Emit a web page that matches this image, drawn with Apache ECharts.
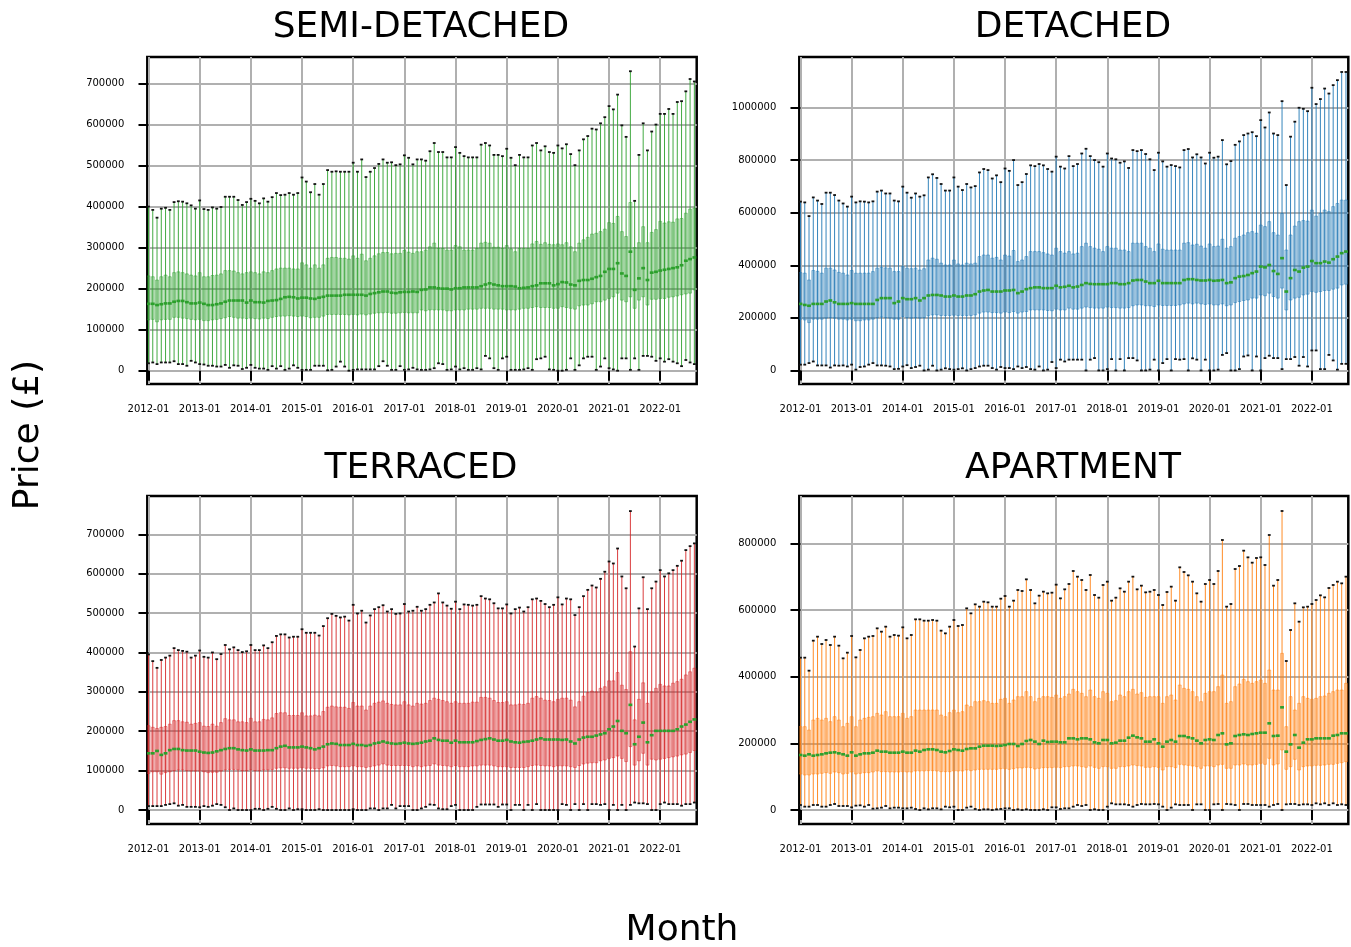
<!DOCTYPE html>
<html>
<head>
<meta charset="utf-8">
<title>Monthly price distribution by property type</title>
<script src="https://cdn.jsdelivr.net/npm/echarts@6/dist/echarts.min.js"></script>
<style>
  html, body { margin: 0; padding: 0; background: #ffffff; }
  #chart { width: 1351px; height: 947px; }
</style>
</head>
<body>
<div id="chart"></div>
<script>
// Month categories, 2012-01 .. 2022-09
const months = [];
for (let y = 2012; y <= 2022; y++) {
  for (let m = 1; m <= 12; m++) {
    if (y === 2022 && m > 9) break;
    months.push(y + '-' + String(m).padStart(2, '0'));
  }
}
const xTickIdx = [0, 12, 24, 36, 48, 60, 72, 84, 96, 108, 120];

// All prices below are in thousands of pounds
const UNIT = 1000;

// ---- Semi-detached ----
const semiMax = [400,392,373,395,397,392,411,413,412,408,
403,395,415,394,392,398,395,399,424,424,
424,416,404,411,419,414,408,420,412,423,
433,428,429,433,429,433,471,461,435,455,
429,455,489,485,486,485,485,485,507,485,
515,472,485,494,504,515,507,508,501,503,
525,519,503,515,
515,512,535,555,533,533,520,520,545,531,
523,520,520,520,551,555,549,526,526,523,
541,519,501,526,520,520,549,555,537,547,
533,531,549,542,552,528,501,537,564,572,
590,588,603,618,645,637,673,598,570,730,
414,526,603,537,583,600,626,626,638,626,
655,657,681,711,705];
const semiQ3 = [231,229,221,229,233,229,239,241,239,236,
233,231,239,229,229,232,233,236,244,244,
243,239,236,239,241,239,236,241,239,244,
248,250,250,250,248,248,263,258,250,258,
250,258,274,276,276,274,274,272,280,274,
284,268,274,280,285,288,288,285,286,286,
293,289,286,290,
290,294,302,311,298,298,294,294,305,302,
294,294,294,298,311,313,311,301,301,298,
305,297,290,298,298,298,309,315,308,312,
308,307,309,307,312,302,290,311,319,325,
333,335,339,345,361,359,376,339,327,410,
300,312,351,312,337,344,364,360,363,362,
370,371,384,394,396];
const semiMed = [163,163,160,162,164,164,168,170,170,167,
164,164,166,163,160,160,162,164,168,171,
171,171,171,166,171,167,167,166,170,171,
172,175,179,180,179,176,178,178,176,175,
178,180,183,183,183,183,185,185,185,185,
185,183,187,189,191,193,193,190,189,191,
192,192,193,192,
197,198,203,203,201,200,200,198,201,201,
203,203,203,203,206,210,213,210,208,206,
206,206,205,201,202,203,206,208,213,213,
213,208,211,216,215,210,208,219,221,221,
224,228,231,241,248,248,262,237,231,290,
197,225,250,221,239,241,244,246,248,250,
252,257,268,272,276];
const semiQ1 = [124,125,119,124,125,125,130,130,128,127,
125,124,125,122,122,124,125,127,129,132,
130,128,128,127,128,127,126,128,127,130,
132,133,133,134,133,132,133,132,129,130,
130,133,137,137,137,137,137,136,137,136,
138,136,138,140,141,141,142,140,140,141,
142,141,141,141,
148,146,148,148,148,148,146,146,148,148,
148,150,150,150,152,152,152,150,150,150,
148,148,148,150,152,152,154,156,154,154,
154,152,152,156,154,152,150,158,160,160,
163,168,168,172,176,180,189,172,168,180,
152,172,180,160,174,174,176,176,179,180,
182,185,187,189,197];
const semiMin = [18,20,16,20,20,20,23,16,16,12,
24,20,16,15,12,12,10,10,14,7,
13,12,4,7,14,7,5,5,2,11,
5,11,2,5,13,7,2,2,2,12,
12,12,1,2,10,22,10,0,2,3,
3,3,3,3,11,23,12,2,2,11,
2,3,7,3,
2,2,3,6,18,16,2,3,10,3,
6,2,2,6,3,36,30,6,2,30,
34,2,2,2,3,6,2,28,30,34,
3,2,0,0,2,30,2,13,30,34,
34,2,10,30,6,3,0,30,30,2,
30,2,36,36,34,24,30,22,28,22,
18,11,26,20,16];

// ---- Detached ----
const detMax = [642,639,587,658,646,633,676,676,667,646,
635,623,661,639,643,642,639,643,680,684,
673,673,646,643,699,676,657,673,661,666,
734,746,732,709,684,684,734,699,686,709,
696,701,753,766,762,730,742,716,768,759,
800,705,716,747,780,777,785,780,766,756,
813,775,768,
815,777,785,825,843,815,800,792,775,825,
806,803,790,795,770,838,834,838,823,803,
762,828,795,775,781,777,772,838,842,810,
822,810,787,828,809,813,876,784,796,858,
871,895,901,906,891,952,924,981,901,895,
1024,705,889,946,999,995,986,1075,1013,1032,
1072,1053,1085,1104,1135,1135];
const detQ3 = [372,370,344,380,377,370,389,389,382,373,
370,363,380,370,370,370,370,376,389,392,
390,389,376,376,395,389,387,389,382,387,
420,427,423,408,401,401,420,405,401,408,
405,408,433,439,439,427,430,420,439,435,
456,414,420,433,452,452,452,448,443,439,
465,452,446,
452,443,446,471,484,471,465,461,452,471,
465,465,458,458,452,484,484,484,471,465,
452,481,461,458,458,458,458,484,486,477,
480,473,465,481,471,473,499,465,471,503,
509,515,524,528,522,553,547,566,524,515,
597,458,515,549,566,570,568,610,587,597,
610,604,623,635,648,648];
const detMed = [253,249,246,253,253,253,262,266,259,253,
253,253,256,253,253,253,253,253,268,275,
275,275,256,262,275,271,271,275,266,275,
285,287,287,285,281,281,285,281,281,285,
285,290,300,304,306,300,300,300,304,304,
306,294,300,309,313,316,316,313,313,313,
322,316,318,
322,316,319,325,332,329,328,328,328,328,
332,332,328,328,332,342,344,344,338,332,
332,341,332,332,332,332,332,344,347,347,
344,342,342,344,341,342,344,332,335,351,
357,359,363,370,376,395,392,401,378,367,
427,300,351,382,376,391,395,416,408,408,
414,410,423,433,446,452];
const detQ1 = [195,192,182,195,195,195,199,201,199,195,
195,192,195,189,189,192,192,195,201,203,
201,199,195,195,205,201,199,201,199,201,
208,211,211,209,209,209,210,209,209,209,
209,211,218,222,222,220,220,218,222,220,
224,218,222,224,230,230,230,230,228,227,
233,230,230,
237,233,233,237,241,239,237,237,237,241,
239,239,237,237,239,246,249,249,246,246,
243,249,247,247,247,247,249,253,256,253,
256,253,251,253,249,249,253,246,249,258,
262,266,268,275,275,287,284,294,281,275,
313,230,268,275,278,287,290,300,297,300,
304,304,309,313,325,328];
const detMin = [22,22,28,34,19,19,19,11,19,18,
19,15,22,3,13,15,22,28,19,19,
18,15,5,6,15,20,9,13,18,0,
3,18,0,3,8,5,3,5,8,0,
5,9,15,18,18,9,3,13,9,9,
5,15,9,13,5,3,15,0,3,32,
9,41,34,
41,41,41,41,0,41,47,0,0,5,
43,0,43,0,47,47,38,0,0,3,
41,0,28,43,0,43,41,43,0,46,
41,0,41,0,0,3,59,66,0,0,
5,53,57,0,53,0,47,56,47,47,
5,43,43,51,18,51,15,76,76,5,
5,59,38,3,25,25];

// ---- Terraced ----
const terMax = [395,378,361,381,387,392,411,406,404,402,
387,392,405,389,387,400,383,396,419,408,
413,406,401,403,419,406,406,418,411,426,
442,446,446,438,440,440,459,450,450,450,
443,467,487,498,493,489,491,481,521,499,
506,476,494,510,515,520,504,510,498,499,
523,504,506,516,
506,510,521,527,550,527,519,511,529,510,
522,521,519,521,543,537,535,525,512,512,
522,499,510,514,504,515,535,537,531,523,
515,521,540,522,537,535,495,515,543,559,
570,565,587,605,631,626,664,593,563,759,
415,512,591,510,563,580,609,593,601,609,
620,633,660,670,677];
const terQ3 = [214,210,207,210,212,218,227,227,224,223,
218,220,222,213,212,218,213,222,232,229,
229,224,224,222,233,224,224,230,229,234,
245,247,247,240,240,240,247,239,239,241,
239,250,261,264,262,261,261,258,273,264,
264,254,264,271,274,277,271,268,267,267,
275,267,264,271,
269,271,278,284,281,278,275,271,275,271,
271,271,274,274,286,286,284,278,273,273,
275,267,267,269,268,271,284,288,284,279,
278,275,281,284,284,279,262,275,289,298,
302,300,309,313,328,328,349,317,306,402,
229,281,323,271,300,309,319,315,315,322,
326,332,343,351,360];
const terMed = [144,144,150,140,144,152,155,155,152,151,
151,151,148,146,145,146,149,152,155,157,
157,154,152,151,154,151,151,151,152,152,
157,161,163,159,159,159,161,159,157,154,
157,161,167,169,168,165,165,165,168,165,
165,163,165,169,171,174,171,169,168,169,
171,169,168,169,
171,174,176,182,178,176,176,171,176,172,
172,172,172,175,178,180,182,179,176,176,
178,174,172,171,173,174,176,179,182,179,
179,179,179,178,179,174,169,179,184,186,
186,189,192,195,205,212,226,201,195,267,
167,186,222,172,190,201,201,201,201,201,
205,212,217,224,230];
const terQ1 = [93,97,97,91,95,97,100,102,102,100,
99,99,99,97,95,96,96,99,102,103,
103,102,100,100,102,100,100,102,102,103,
106,107,107,106,106,106,107,106,106,105,
105,107,112,113,112,110,110,110,112,110,
110,108,110,112,114,117,114,113,113,113,
113,113,110,112,
110,112,113,117,114,113,112,110,113,110,
110,110,112,112,114,114,114,112,110,110,
110,108,108,108,108,110,113,114,113,112,
112,110,112,112,112,110,108,113,117,119,
120,120,125,127,131,133,137,131,123,161,
114,125,144,114,129,127,129,131,133,135,
137,140,142,146,151];
const terMin = [10,10,10,10,13,15,17,11,13,8,
8,8,7,10,8,11,15,13,7,0,
4,0,0,0,0,3,3,0,3,8,
3,0,0,4,0,2,2,0,0,0,
2,0,0,0,0,0,0,0,2,0,
0,0,4,4,0,4,4,13,4,10,
10,10,0,0,
4,8,14,13,4,2,2,10,13,0,
0,0,0,8,14,14,14,14,8,14,
14,0,13,13,0,13,0,15,0,0,
0,0,0,15,13,0,15,0,15,0,
15,15,13,15,0,13,0,13,0,13,
19,17,17,15,0,0,15,19,15,15,
15,11,15,15,19];

// ---- Apartment ----
const aptMax = [457,457,418,508,520,498,510,495,520,493,
455,472,522,458,480,515,520,522,545,535,
550,520,525,523,548,515,525,572,572,568,
568,570,568,538,530,550,570,552,555,605,
590,617,610,625,623,610,610,634,642,610,
628,660,657,692,660,620,643,655,650,652,
676,635,662,678,
717,700,690,660,705,645,637,675,685,628,
637,665,655,685,700,662,673,653,655,660,
645,615,654,670,628,728,714,704,685,650,
625,678,690,678,717,810,610,618,723,732,
778,758,742,756,758,735,825,673,690,897,
447,540,620,565,608,610,618,630,644,638,
666,675,685,680,700];
const aptQ3 = [250,250,240,270,275,270,275,265,280,270,
250,260,280,250,270,275,278,280,290,285,
295,280,280,280,290,275,280,300,300,300,
300,300,300,285,280,292,300,292,295,315,
310,325,325,328,325,320,320,332,335,320,
330,340,340,355,340,325,335,340,340,338,
345,335,340,
348,362,355,350,340,360,340,335,355,350,
325,328,345,340,355,362,348,352,338,340,
340,340,320,340,345,330,375,365,362,355,
340,325,350,355,355,370,405,320,325,370,
378,392,385,380,385,390,380,420,360,360,
470,250,340,300,320,340,335,332,335,340,
342,350,355,360,360,380];
const aptMed = [165,163,167,163,165,167,170,172,173,170,
167,163,173,163,167,170,170,172,178,175,
175,172,172,172,175,172,172,178,175,180,
182,182,180,175,173,177,182,180,178,183,
185,185,190,193,193,193,192,193,195,198,
198,192,198,207,210,205,198,208,204,205,
205,203,203,
215,215,212,215,215,212,203,200,210,210,
200,202,208,208,217,223,218,215,205,205,
212,200,190,205,210,205,222,222,218,215,
208,200,210,212,210,225,230,197,200,222,
225,227,225,228,230,232,232,260,222,223,
308,175,197,225,187,202,212,212,215,215,
215,215,223,225,230,230];
const aptQ1 = [108,105,105,108,108,110,112,110,114,112,
108,110,114,108,110,112,112,114,117,115,
115,114,114,114,115,114,114,117,117,117,
118,118,117,115,115,115,117,117,117,120,
118,120,122,122,122,122,122,124,124,122,
124,126,126,128,127,123,125,127,127,127,
128,127,130,
130,132,132,130,128,132,128,125,130,130,
125,125,130,130,132,135,133,132,128,128,
130,128,120,130,130,127,137,135,134,132,
130,125,132,132,130,135,137,125,125,135,
135,138,135,135,137,140,137,155,135,138,
180,122,130,152,120,130,132,132,134,134,
135,137,137,140,142,145];
const aptMin = [15,10,10,15,15,10,10,15,18,12,
12,12,8,13,14,10,15,4,5,7,
12,5,7,7,5,5,7,3,0,5,
2,5,5,2,10,8,10,0,0,7,
10,3,0,2,2,0,2,3,5,5,
0,2,0,2,0,0,0,2,0,8,
8,3,5,
5,10,15,12,15,0,2,0,0,10,
20,17,17,17,15,10,15,18,17,17,
18,17,10,0,7,17,15,15,15,0,
17,17,0,0,17,18,0,18,17,15,
0,18,18,15,15,15,15,10,15,18,
0,17,18,18,15,17,17,15,20,17,
20,15,20,15,17,15];

// Y tick labels per panel
const semiTicks = [0, 100000, 200000, 300000, 400000, 500000, 600000, 700000];
const detTicks = [0, 200000, 400000, 600000, 800000, 1000000];
const terTicks = [0, 100000, 200000, 300000, 400000, 500000, 600000, 700000];
const aptTicks = [0, 200000, 400000, 600000, 800000];

const MEDIAN_COLOR = '#2ca02c';
const CAP_COLOR = '#111111';
const FONT = '"DejaVu Sans", "Liberation Sans", sans-serif';

const panels = [
  { title: 'SEMI-DETACHED', color: '#2ca02c', edge: 'rgba(44,160,44,0.7)', fill: 'rgba(44,160,44,0.22)',
    mins: semiMin, q1: semiQ1, med: semiMed, q3: semiQ3, maxs: semiMax,
    ticks: semiTicks, yMin: -32500, yMax: 764700,
    left: 147.3, top: 57, width: 549.4, height: 327, titleX: 421, titleY: 28 },
  { title: 'DETACHED', color: '#1f77b4', edge: 'rgba(31,119,180,0.7)', fill: 'rgba(31,119,180,0.22)',
    mins: detMin, q1: detQ1, med: detMed, q3: detQ3, maxs: detMax,
    ticks: detTicks, yMin: -51600, yMax: 1192000,
    left: 799.3, top: 57, width: 549, height: 327, titleX: 1073, titleY: 28 },
  { title: 'TERRACED', color: '#d62728', edge: 'rgba(214,39,40,0.7)', fill: 'rgba(214,39,40,0.22)',
    mins: terMin, q1: terQ1, med: terMed, q3: terQ3, maxs: terMax,
    ticks: terTicks, yMin: -35500, yMax: 797300,
    left: 147.3, top: 496, width: 549.4, height: 328, titleX: 421, titleY: 469 },
  { title: 'APARTMENT', color: '#ff7f0e', edge: 'rgba(255,127,14,0.7)', fill: 'rgba(255,127,14,0.22)',
    mins: aptMin, q1: aptQ1, med: aptMed, q3: aptQ3, maxs: aptMax,
    ticks: aptTicks, yMin: -42000, yMax: 942000,
    left: 799.3, top: 496, width: 549, height: 328, titleX: 1073, titleY: 469 }
];

// One monthly box: whisker, quartile box, median bar and the two caps
function boxRenderer(color, edge, fill) {
  return function (params, api) {
    const x = api.value(0);
    const pMin = api.coord([x, api.value(1)]);
    const pQ1 = api.coord([x, api.value(2)]);
    const pMed = api.coord([x, api.value(3)]);
    const pQ3 = api.coord([x, api.value(4)]);
    const pMax = api.coord([x, api.value(5)]);
    const band = api.size([1, 0])[0];
    const cx = pMin[0];
    const bw = band * 0.68;
    const mw = band * 0.9;
    const cap = band * 0.33;
    return {
      type: 'group',
      children: [
        { type: 'line', shape: { x1: cx, y1: pMin[1], x2: cx, y2: pMax[1] },
          style: { stroke: color, lineWidth: 0.9 } },
        { type: 'rect', shape: { x: cx - bw / 2, y: pQ3[1], width: bw, height: pQ1[1] - pQ3[1] },
          style: { fill: fill, stroke: edge, lineWidth: 0.7 } },
        { type: 'line', shape: { x1: cx - mw / 2, y1: pMed[1], x2: cx + mw / 2, y2: pMed[1] },
          style: { stroke: MEDIAN_COLOR, lineWidth: 2.6 } },
        { type: 'line', shape: { x1: cx - cap, y1: pMin[1], x2: cx + cap, y2: pMin[1] },
          style: { stroke: CAP_COLOR, lineWidth: 1.8 } },
        { type: 'line', shape: { x1: cx - cap, y1: pMax[1], x2: cx + cap, y2: pMax[1] },
          style: { stroke: CAP_COLOR, lineWidth: 1.8 } }
      ]
    };
  };
}

const grids = [], xAxes = [], yAxes = [], series = [], graphics = [];
panels.forEach(function (p, k) {
  grids.push({ left: p.left, top: p.top, width: p.width, height: p.height,
    show: true, borderColor: '#000', borderWidth: 2.5, backgroundColor: 'transparent' });
  xAxes.push({
    gridIndex: k, type: 'value', min: -0.28, max: 128.55,
    axisLine: { show: false },
    axisTick: { show: true, length: 10, customValues: xTickIdx, lineStyle: { color: '#000', width: 2 } },
    axisLabel: { show: true, customValues: xTickIdx, margin: 20, fontSize: 10, fontFamily: FONT, color: '#000',
      formatter: function (v) { return months[Math.round(v)]; } },
    splitLine: { show: true, lineStyle: { color: '#b0b0b0', width: 2 } }
  });
  yAxes.push({
    gridIndex: k, type: 'value', min: p.yMin, max: p.yMax,
    axisLine: { show: false },
    axisTick: { show: true, length: 10, customValues: p.ticks, lineStyle: { color: '#000', width: 2 } },
    axisLabel: { show: true, customValues: p.ticks, margin: 23, fontSize: 10, fontFamily: FONT, color: '#000',
      formatter: function (v) { return String(v); } },
    splitLine: { show: true, lineStyle: { color: '#b0b0b0', width: 2 } }
  });
  const data = months.map(function (m, i) {
    return [i, p.mins[i] * UNIT, p.q1[i] * UNIT, p.med[i] * UNIT, p.q3[i] * UNIT, p.maxs[i] * UNIT];
  });
  series.push({
    type: 'custom', name: p.title, xAxisIndex: k, yAxisIndex: k,
    clip: true, silent: true, animation: false,
    encode: { x: 0, y: [1, 2, 3, 4, 5] },
    renderItem: boxRenderer(p.color, p.edge, p.fill),
    data: data
  });
  graphics.push({ type: 'text', x: p.titleX, y: p.titleY,
    style: { text: p.title, fontSize: 36, fontFamily: FONT, fill: '#000',
      textAlign: 'center', textVerticalAlign: 'middle' } });
});

graphics.push({ type: 'text', x: 29, y: 435, rotation: Math.PI / 2,
  style: { text: 'Price (£)', fontSize: 36, fontFamily: FONT, fill: '#000',
    textAlign: 'center', textVerticalAlign: 'middle' } });
graphics.push({ type: 'text', x: 682, y: 931,
  style: { text: 'Month', fontSize: 36, fontFamily: FONT, fill: '#000',
    textAlign: 'center', textVerticalAlign: 'middle' } });

const chart = echarts.init(document.getElementById('chart'), null, { renderer: 'canvas' });
chart.setOption({
  backgroundColor: '#ffffff',
  animation: false,
  grid: grids,
  xAxis: xAxes,
  yAxis: yAxes,
  series: series,
  graphic: graphics
});
</script>
</body>
</html>
